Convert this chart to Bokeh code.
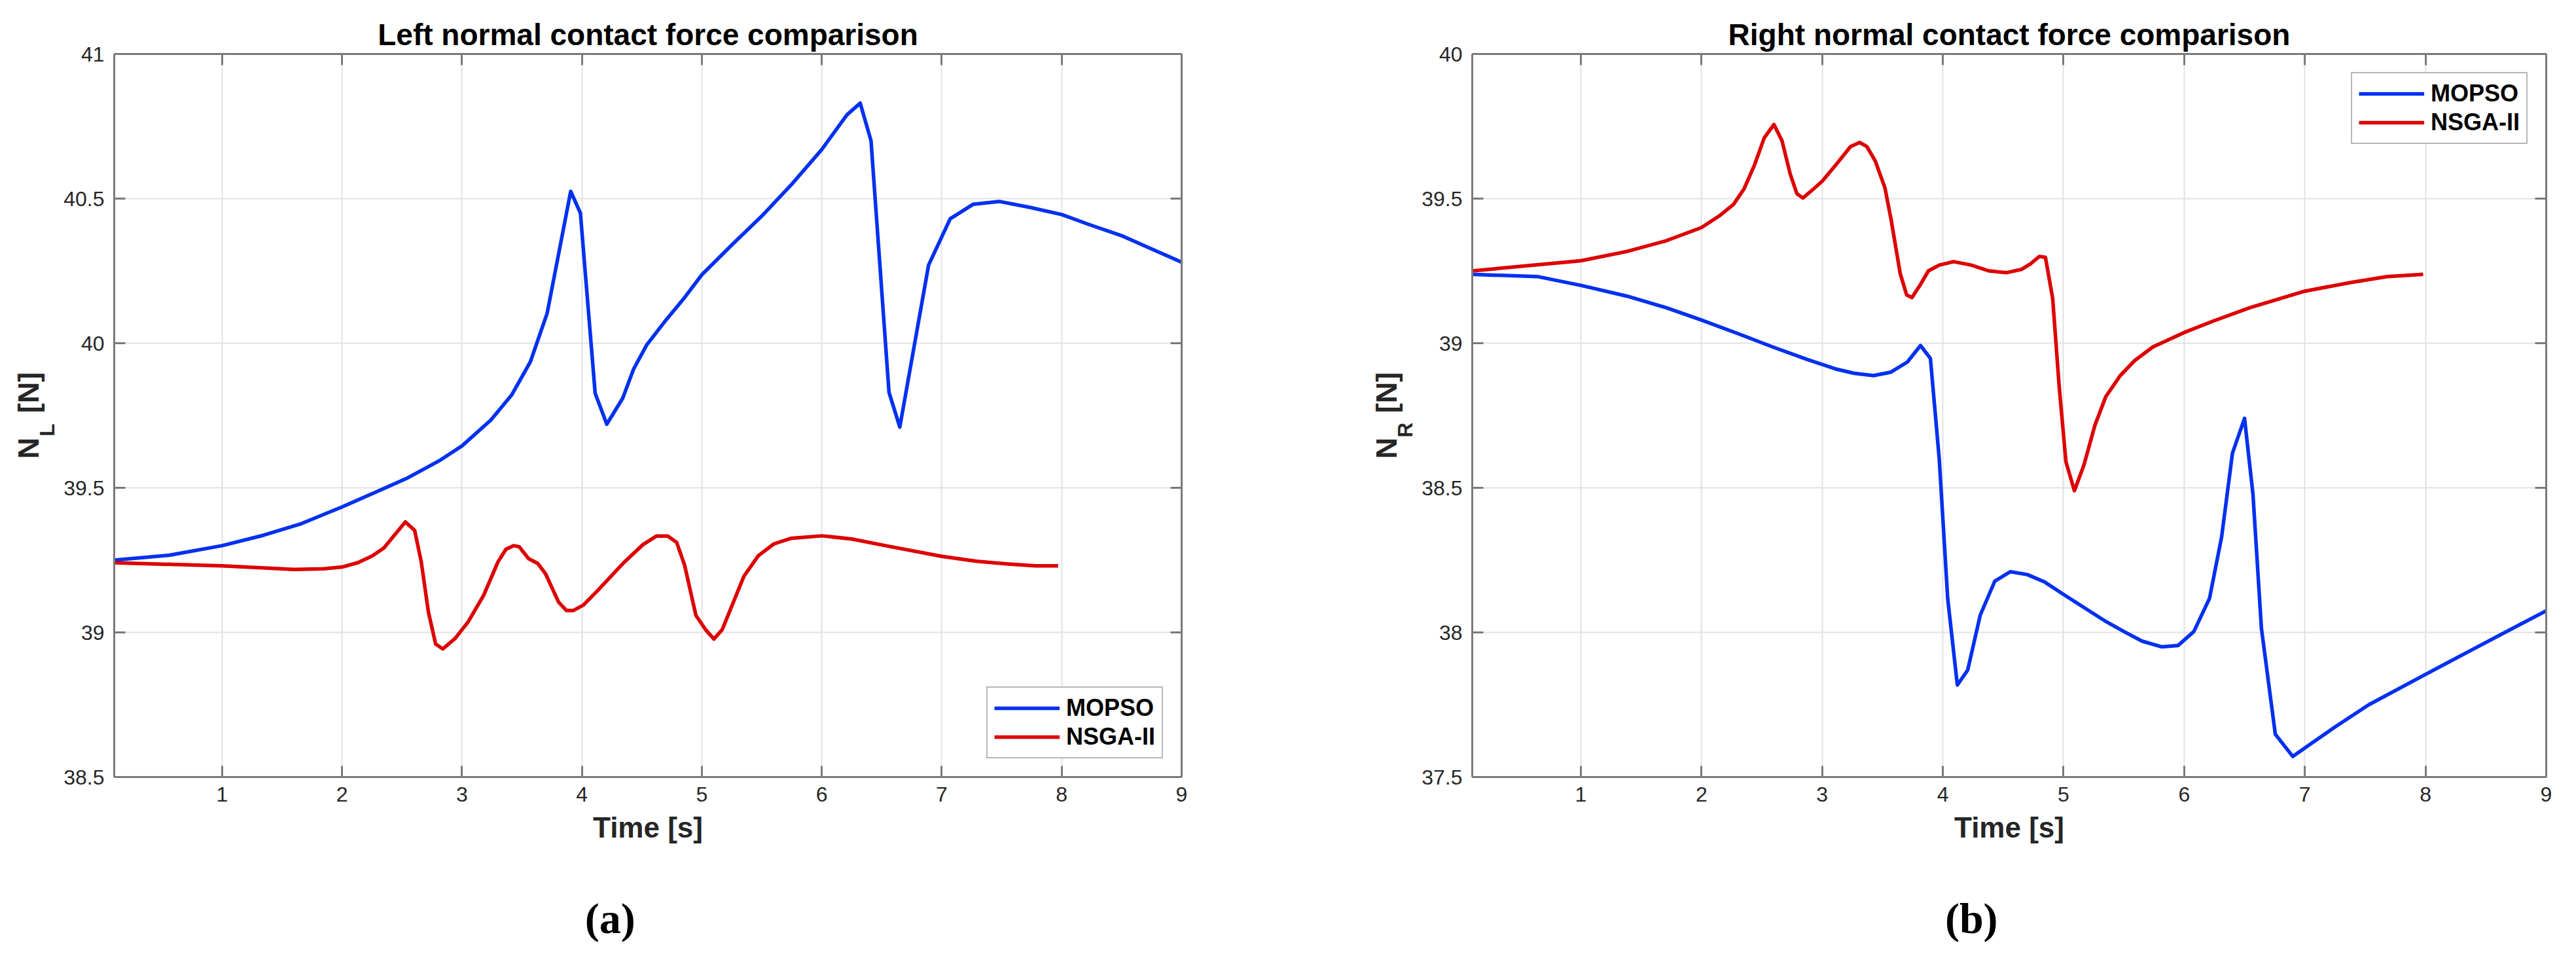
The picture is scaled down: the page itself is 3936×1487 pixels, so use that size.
"""
Normal contact force comparison, MOPSO against NSGA-II, left and right side.
"""

from bokeh.embed import file_html
from bokeh.layouts import row
from bokeh.models import CustomJSTickFormatter, FixedTicker, LinearAxis, Range1d
from bokeh.plotting import figure
from bokeh.resources import INLINE

# values
left_mopso_t = [0.1, 0.56, 1.0, 1.345, 1.66, 2.0, 2.285, 2.536, 2.82, 3.0, 3.24, 3.414,
                3.57, 3.71, 3.906, 3.987, 4.11, 4.207, 4.34, 4.43, 4.54, 4.70, 4.856,
                5.0, 5.25, 5.5, 5.75, 6.0, 6.21, 6.32, 6.41, 6.56, 6.65, 6.89, 7.07,
                7.26, 7.48, 7.73, 8.0, 8.23, 8.51, 9.0]
left_mopso_n = [39.25, 39.267, 39.30, 39.336, 39.376, 39.434, 39.486, 39.532, 39.596,
                39.645, 39.734, 39.821, 39.936, 40.104, 40.525, 40.45, 39.827, 39.72,
                39.81, 39.91, 39.994, 40.08, 40.158, 40.237, 40.34, 40.44, 40.55, 40.67,
                40.79, 40.83, 40.70, 39.83, 39.71, 40.27, 40.43, 40.48, 40.49, 40.47,
                40.445, 40.41, 40.37, 40.28]

left_nsga_t = [0.1, 1.0, 1.6, 1.846, 2.0, 2.13, 2.25, 2.348, 2.527, 2.605, 2.66, 2.72,
               2.78, 2.84, 2.94, 3.05, 3.18, 3.30, 3.367, 3.43, 3.477, 3.555, 3.633,
               3.696, 3.805, 3.87, 3.93, 4.01, 4.12, 4.355, 4.51, 4.62, 4.715, 4.79,
               4.856, 4.95, 5.03, 5.10, 5.17, 5.35, 5.47, 5.60, 5.74, 6.0, 6.25, 6.53,
               7.0, 7.29, 7.54, 7.78, 7.97]
left_nsga_n = [39.241, 39.23, 39.218, 39.22, 39.226, 39.241, 39.264, 39.292, 39.382,
               39.353, 39.244, 39.07, 38.96, 38.943, 38.978, 39.036, 39.128, 39.244,
               39.288, 39.30, 39.296, 39.255, 39.238, 39.203, 39.105, 39.076, 39.076,
               39.094, 39.14, 39.244, 39.304, 39.333, 39.333, 39.311, 39.232, 39.059,
               39.01, 38.977, 39.01, 39.194, 39.265, 39.306, 39.325, 39.334, 39.323,
               39.30, 39.263, 39.246, 39.237, 39.23, 39.23]

right_mopso_t = [0.1, 0.647, 1.0, 1.38, 1.706, 2.0, 2.29, 2.59, 2.88, 3.12, 3.265, 3.426,
                 3.57, 3.706, 3.815, 3.897, 3.97, 4.04, 4.12, 4.206, 4.31, 4.43, 4.56,
                 4.70, 4.845, 4.99, 5.17, 5.35, 5.50, 5.65, 5.815, 5.95, 6.08, 6.21,
                 6.31, 6.40, 6.50, 6.57, 6.64, 6.755, 6.90, 7.08, 7.26, 7.53, 8.0, 8.43,
                 9.0]
right_mopso_n = [39.238, 39.23, 39.20, 39.163, 39.123, 39.08, 39.035, 38.987, 38.943,
                 38.91, 38.896, 38.888, 38.90, 38.935, 38.992, 38.947, 38.60, 38.118,
                 37.818, 37.87, 38.06, 38.177, 38.21, 38.20, 38.174, 38.134, 38.086,
                 38.038, 38.003, 37.97, 37.95, 37.955, 38.003, 38.118, 38.33, 38.62,
                 38.74, 38.477, 38.014, 37.648, 37.571, 37.624, 37.676, 37.75, 37.855,
                 37.95, 38.075]

right_nsga_t = [0.1, 1.0, 1.38, 1.706, 2.0, 2.147, 2.265, 2.353, 2.44, 2.52, 2.60, 2.667,
                2.735, 2.79, 2.84, 2.93, 3.0, 3.12, 3.235, 3.31, 3.37, 3.44, 3.52, 3.57,
                3.647, 3.70, 3.744, 3.81, 3.88, 3.97, 4.09, 4.235, 4.38, 4.53, 4.65,
                4.725, 4.80, 4.85, 4.91, 4.964, 5.02, 5.09, 5.17, 5.26, 5.35, 5.47, 5.59,
                5.74, 6.0, 6.25, 6.546, 7.0, 7.38, 7.68, 7.98]
right_nsga_n = [39.25, 39.285, 39.317, 39.354, 39.40, 39.44, 39.48, 39.534, 39.617,
                39.71, 39.756, 39.70, 39.585, 39.517, 39.502, 39.534, 39.56, 39.62,
                39.68, 39.694, 39.68, 39.63, 39.537, 39.43, 39.24, 39.167, 39.158, 39.20,
                39.25, 39.27, 39.282, 39.27, 39.25, 39.244, 39.255, 39.274, 39.30,
                39.297, 39.155, 38.85, 38.59, 38.49, 38.58, 38.716, 38.815, 38.888,
                38.94, 38.987, 39.037, 39.078, 39.123, 39.18, 39.21, 39.23, 39.238]

x_ticks = [1, 2, 3, 4, 5, 6, 7, 8, 9]
left_y_ticks = [38.5, 39, 39.5, 40, 40.5, 41]
right_y_ticks = [37.5, 38, 38.5, 39, 39.5, 40]

FONT = "Liberation Sans"
BLUE = "#0030F0"
RED = "#DD0000"
AXIS_GREY = "#7a7a7a"
TEXT_GREY = "#262626"
NBSP = "\u00a0"
HEIGHT = 1466


def style_axis(axis, ticks, show_labels=True):
    """Matlab-like axis: grey line, inward ticks, plain numbers."""
    axis.ticker = FixedTicker(ticks=ticks)
    axis.formatter = CustomJSTickFormatter(code="return tick.toString()")
    axis.axis_line_color = AXIS_GREY
    axis.axis_line_width = 3
    axis.major_tick_line_color = AXIS_GREY
    axis.major_tick_line_width = 3
    axis.major_tick_in = 17
    axis.major_tick_out = 0
    axis.minor_tick_line_color = None
    axis.major_label_text_font = FONT
    if show_labels:
        axis.major_label_text_font_size = "32px"
        axis.major_label_text_color = TEXT_GREY
        axis.major_label_standoff = 15
    else:
        axis.major_label_text_font_size = "1px"
        axis.major_label_text_color = None
        axis.major_label_standoff = 0


def text_axis(text, standoff, font, size, color):
    """An axis with no line and no ticks, used only to carry a piece of text."""
    axis = LinearAxis(ticker=FixedTicker(ticks=[]), axis_label=text)
    axis.axis_line_color = None
    axis.major_tick_line_color = None
    axis.minor_tick_line_color = None
    axis.major_label_standoff = 0
    axis.major_tick_out = 0
    axis.major_tick_in = 0
    axis.axis_label_standoff = standoff
    axis.axis_label_text_font = font
    axis.axis_label_text_font_size = size
    axis.axis_label_text_font_style = "bold"
    axis.axis_label_text_color = color
    return axis


def make_panel(title, mopso, nsga, y_range, y_ticks, sub, caption, legend_location,
               width, borders):
    left, right, top, bottom = borders
    p = figure(
        width=width,
        height=HEIGHT,
        title=title,
        x_range=Range1d(0.1, 9),
        y_range=Range1d(*y_range),
        output_backend="svg",
        toolbar_location=None,
        min_border_left=left,
        min_border_right=right,
        min_border_top=top,
        min_border_bottom=bottom,
    )
    p.outline_line_color = None
    p.background_fill_color = "white"

    p.title.text_font = FONT
    p.title.text_font_size = "46px"
    p.title.text_font_style = "bold"
    p.title.text_color = "black"
    p.title.align = "center"
    p.title.standoff = 8

    xaxis = p.xaxis[0]
    yaxis = p.yaxis[0]
    style_axis(xaxis, x_ticks)
    style_axis(yaxis, y_ticks)
    xaxis.axis_label = "Time [s]"
    xaxis.axis_label_text_font = FONT
    xaxis.axis_label_text_font_size = "44px"
    xaxis.axis_label_text_font_style = "bold"
    xaxis.axis_label_text_color = TEXT_GREY
    xaxis.axis_label_standoff = 12

    # y label N_sub [N]: the subscript rides on the tick axis, the rest on an outer bare axis
    yaxis.axis_label = sub + NBSP * 5
    yaxis.axis_label_text_font = FONT
    yaxis.axis_label_text_font_size = "32px"
    yaxis.axis_label_text_font_style = "bold"
    yaxis.axis_label_text_color = TEXT_GREY
    yaxis.axis_label_standoff = 4
    p.add_layout(text_axis("N" + NBSP * 3 + "[N]", -17, FONT, "45px", TEXT_GREY), "left")

    top_axis = LinearAxis()
    style_axis(top_axis, x_ticks, show_labels=False)
    p.add_layout(top_axis, "above")
    right_axis = LinearAxis()
    style_axis(right_axis, y_ticks, show_labels=False)
    p.add_layout(right_axis, "right")

    # sub-figure caption below the x label, nudged left by trailing spaces
    p.add_layout(text_axis(caption + NBSP * 7, 75, "Liberation Serif", "66px", "black"),
                 "below")

    p.xgrid.ticker = xaxis.ticker
    p.ygrid.ticker = yaxis.ticker
    p.grid.grid_line_color = "#e2e2e2"
    p.grid.grid_line_width = 2

    p.line(mopso[0], mopso[1], color=BLUE, line_width=5.5, line_join="round",
           legend_label="MOPSO")
    p.line(nsga[0], nsga[1], color=RED, line_width=5.5, line_join="round",
           legend_label="NSGA-II")

    p.legend.location = legend_location
    p.legend.margin = 28
    p.legend.padding = 10
    p.legend.spacing = 2
    p.legend.glyph_width = 100
    p.legend.glyph_height = 40
    p.legend.label_standoff = 10
    p.legend.label_text_font = FONT
    p.legend.label_text_font_size = "36px"
    p.legend.label_text_font_style = "bold"
    p.legend.label_text_color = "black"
    p.legend.border_line_color = "#707070"
    p.legend.border_line_width = 2
    p.legend.background_fill_alpha = 1
    return p


left_plot = make_panel(
    "Left normal contact force comparison",
    (left_mopso_t, left_mopso_n),
    (left_nsga_t, left_nsga_n),
    (38.5, 41), left_y_ticks, "L", "(a)", "bottom_right",
    2000, (174, 195, 82, 279),
)
right_plot = make_panel(
    "Right normal contact force comparison",
    (right_mopso_t, right_mopso_n),
    (right_nsga_t, right_nsga_n),
    (37.5, 40), right_y_ticks, "R", "(b)", "top_right",
    1918, (249, 28, 81, 274),
)

layout = row(left_plot, right_plot)
open("out.html", "w").write(file_html(layout, INLINE))
